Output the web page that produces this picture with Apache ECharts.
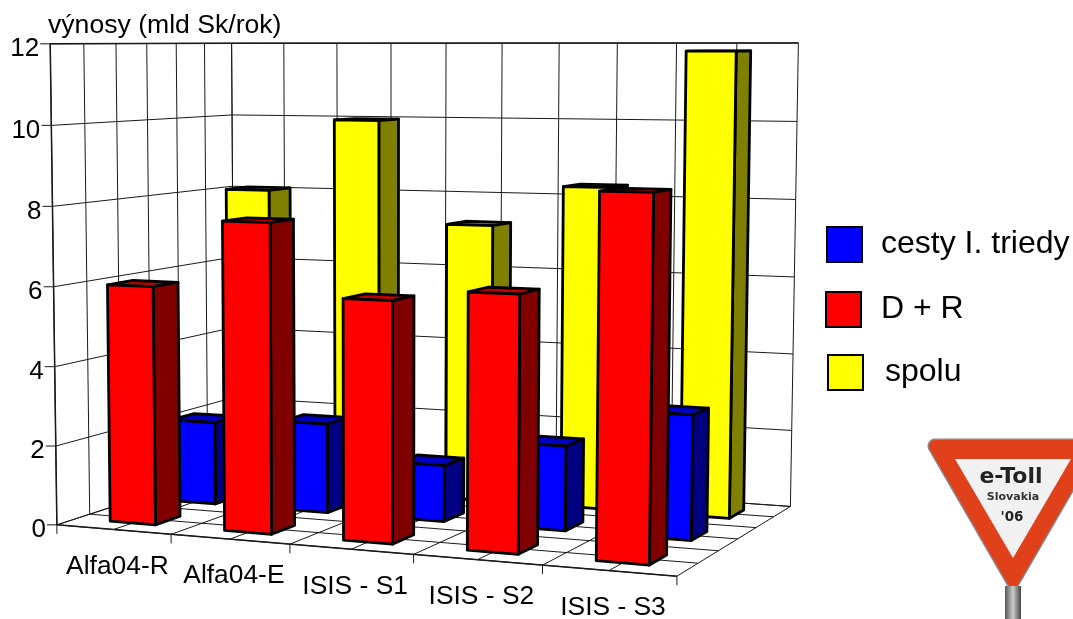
<!DOCTYPE html>
<html>
<head>
<meta charset="utf-8">
<title>výnosy</title>
<style>
  html, body { margin: 0; padding: 0; background: #fff; }
  #chart { width: 1073px; height: 619px; }
</style>
<script src="https://cdn.jsdelivr.net/npm/echarts@6/dist/echarts.min.js"></script>
</head>
<body>
<div id="chart"></div>
<script>
var categories = ['Alfa04-R', 'Alfa04-E', 'ISIS - S1', 'ISIS - S2', 'ISIS - S3'];
var cestyValues = [2.15, 2.3, 1.43, 2.12, 3.08];
var drValues = [6.0, 7.68, 5.9, 6.18, 8.63];
var spoluValues = [8.05, 9.97, 7.27, 8.33, 11.8];
var yTicks = [0, 2, 4, 6, 8, 10, 12];
var FONT = '"Liberation Sans", Arial, sans-serif';
var DEPTH_ROWS = 3;

// box corners of the 3d chart: [u, v, w] -> picture pixel
var corners = [
  [0, 0, 0, 58, 524],
  [0, 1, 0, 49, 44],
  [0, 0, 1, 233, 468],
  [0, 1, 1, 233, 43],
  [1, 0, 1, 790.7, 505.7],
  [1, 1, 1, 798, 43],
  [1, 0, 0, 677, 577]
];

// least squares fit of the projective camera to the corners
function solveCamera(pts) {
  var rows = [], rhs = [];
  pts.forEach(function(p) {
    var u = p[0], v = p[1], w = p[2], x = p[3] / 1000, y = p[4] / 1000;
    rows.push([u, v, w, 1, 0, 0, 0, 0, -x * u, -x * v, -x * w]); rhs.push(x);
    rows.push([0, 0, 0, 0, u, v, w, 1, -y * u, -y * v, -y * w]); rhs.push(y);
  });
  var n = 11, m = [];
  for (var i = 0; i < n; i++) {
    m[i] = [];
    for (var j = 0; j < n; j++) {
      var s = 0;
      rows.forEach(function(r) { s += r[i] * r[j]; });
      m[i][j] = s;
    }
    var b = 0;
    rows.forEach(function(r, k) { b += r[i] * rhs[k]; });
    m[i][n] = b;
  }
  for (var c = 0; c < n; c++) {
    var best = c;
    for (var r2 = c + 1; r2 < n; r2++) if (Math.abs(m[r2][c]) > Math.abs(m[best][c])) best = r2;
    var t = m[c]; m[c] = m[best]; m[best] = t;
    for (var r3 = 0; r3 < n; r3++) {
      if (r3 === c) continue;
      var f = m[r3][c] / m[c][c];
      for (var k2 = c; k2 <= n; k2++) m[r3][k2] -= f * m[c][k2];
    }
  }
  return m.map(function(row, idx) { return row[n] / row[idx]; });
}
var cam = solveCamera(corners);

function project(u, v, w) {
  var d = cam[8] * u + cam[9] * v + cam[10] * w + 1;
  return [
    1000 * (cam[0] * u + cam[1] * v + cam[2] * w + cam[3]) / d,
    1000 * (cam[4] * u + cam[5] * v + cam[6] * w + cam[7]) / d
  ];
}

// axis value -> u, v through the hidden cartesian grid
function toBox(params, api, cat, val) {
  var cs = params.coordSys;
  var pt = api.coord([cat, val]);
  return [(pt[0] - cs.x) / cs.width, (cs.y + cs.height - pt[1]) / cs.height];
}

function face(points, fill) {
  return {
    type: 'polygon',
    shape: { points: points },
    style: { fill: fill, stroke: '#000', lineWidth: 2.8, lineJoin: 'round' }
  };
}

function barSeries(name, values, colors, row) {
  return {
    name: name,
    type: 'custom',
    coordinateSystem: 'cartesian2d',
    itemStyle: { color: colors[0] },
    data: values.map(function(v, i) { return [i, v]; }),
    renderItem: function(params, api) {
      var box = toBox(params, api, api.value(0), api.value(1));
      var halfU = 0.2 * api.size([1, 0])[0] / params.coordSys.width;
      var u0 = box[0] - halfU, u1 = box[0] + halfU, v = box[1];
      var w0 = (row + 0.3) / DEPTH_ROWS, w1 = (row + 0.7) / DEPTH_ROWS;
      return {
        type: 'group',
        children: [
          face([project(u0, v, w0), project(u1, v, w0), project(u1, v, w1), project(u0, v, w1)], colors[2]),
          face([project(u1, 0, w0), project(u1, v, w0), project(u1, v, w1), project(u1, 0, w1)], colors[1]),
          face([project(u0, 0, w0), project(u1, 0, w0), project(u1, v, w0), project(u0, v, w0)], colors[0])
        ]
      };
    }
  };
}

function seg(a, b, width) {
  return {
    type: 'line',
    shape: { x1: a[0], y1: a[1], x2: b[0], y2: b[1] },
    style: { stroke: '#1a1a1a', lineWidth: width || 1 }
  };
}

function renderFrame(params, api) {
  var out = [];
  var nCat = categories.length;
  var i, k;
  // walls: steps of half a category / half a depth row
  for (i = 0; i <= nCat * 2; i++) {
    var u = i / (nCat * 2);
    out.push(seg(project(u, 0, 1), project(u, 1, 1)));
    out.push(seg(project(u, 0, 0), project(u, 0, 1)));
  }
  for (k = 0; k <= DEPTH_ROWS * 2; k++) {
    var w = k / (DEPTH_ROWS * 2);
    out.push(seg(project(0, 0, w), project(0, 1, w)));
    out.push(seg(project(0, 0, w), project(1, 0, w)));
  }
  yTicks.forEach(function(t) {
    var v = toBox(params, api, 0, t)[1];
    var back = project(0, v, 1), front = project(0, v, 0);
    out.push(seg(front, back));
    out.push(seg(back, project(1, v, 1)));
    out.push(seg(front, [front[0] - 10, front[1]]));
    out.push({
      type: 'text',
      style: {
        text: String(t), x: front[0] - 11, y: front[1] + 5,
        fill: '#000', fontSize: 26, fontFamily: FONT, align: 'right', verticalAlign: 'middle'
      }
    });
  });
  // front ticks and category labels
  for (i = 0; i <= nCat; i++) {
    var p = project(i / nCat, 0, 0);
    out.push(seg(p, [p[0], p[1] + 9]));
    if (i < nCat) {
      var mid = project((i + 0.5) / nCat, 0, 0);
      out.push({
        type: 'text',
        style: {
          text: categories[i], x: mid[0] + 4, y: mid[1] + 37,
          fill: '#000', fontSize: 26.4, fontFamily: FONT, align: 'center', verticalAlign: 'middle'
        }
      });
    }
  }
  out.push(seg(project(0, 1, 0), project(0, 1, 1), 1.5));
  out.push(seg(project(0, 1, 1), project(1, 1, 1), 1.5));
  out.push(seg(project(0, 0, 0), project(1, 0, 0), 1.5));
  out.push(seg(project(0, 0, 0), project(0, 1, 0), 1.5));
  return { type: 'group', children: out };
}

function legendAt(name, left, top, textPadding) {
  return {
    data: [name],
    left: left,
    top: top,
    padding: 0,
    icon: 'rect',
    itemWidth: 35,
    itemHeight: 35,
    selectedMode: false,
    itemStyle: { borderColor: '#000', borderWidth: 2 },
    textStyle: { fontFamily: FONT, fontSize: 32, color: '#000', padding: textPadding }
  };
}

var option = {
  animation: false,
  backgroundColor: '#fff',
  title: {
    text: 'výnosy (mld Sk/rok)',
    left: 48,
    top: 12,
    padding: 0,
    textStyle: { fontFamily: FONT, fontSize: 26.6, fontWeight: 'normal', color: '#000' }
  },
  legend: [
    legendAt('cesty I. triedy', 826, 226, [4, 0, 0, 14]),
    legendAt('D + R', 825, 291, [4, 0, 0, 15]),
    legendAt('spolu', 827, 354, [0, 0, 4, 17])
  ],
  grid: { left: 58, top: 44, width: 619, height: 480, show: false },
  xAxis: { type: 'category', data: categories, show: false },
  yAxis: { type: 'value', min: 0, max: 12, interval: 2, show: false },
  series: [
    {
      type: 'custom',
      name: 'frame',
      coordinateSystem: 'cartesian2d',
      silent: true,
      data: [[0, 0]],
      renderItem: renderFrame
    },
    barSeries('spolu', spoluValues, ['#ffff00', '#808000', '#9a9a00'], 2),
    barSeries('cesty I. triedy', cestyValues, ['#0000ff', '#000080', '#0000c0'], 1),
    barSeries('D + R', drValues, ['#ff0000', '#800000', '#c00000'], 0)
  ],
  graphic: [
    { type: 'polygon', shape: { points: [[935, 446], [1091, 446], [1013, 581]] },
      style: { fill: '#888', stroke: '#888', lineWidth: 15, lineJoin: 'round' } },
    { type: 'polygon', shape: { points: [[935, 446], [1091, 446], [1013, 581]] },
      style: { fill: '#e0401a', stroke: '#e0401a', lineWidth: 12, lineJoin: 'round' } },
    { type: 'polygon', shape: { points: [[955, 459], [1071, 459], [1013, 558]] },
      style: { fill: '#f1f1f1' } },
    { type: 'rect', shape: { x: 1005, y: 586, width: 16, height: 33 },
      style: {
        fill: { type: 'linear', x: 0, y: 0, x2: 1, y2: 0, colorStops: [
          { offset: 0, color: '#555' }, { offset: 0.5, color: '#ccc' }, { offset: 1, color: '#444' }
        ] }
      } },
    { type: 'text', style: { text: 'e-Toll', x: 1011, y: 477, fill: '#222', align: 'center', verticalAlign: 'middle',
      fontFamily: '"DejaVu Sans"', fontWeight: 'bold', fontSize: 22 } },
    { type: 'text', style: { text: 'Slovakia', x: 1013, y: 497, fill: '#333', align: 'center', verticalAlign: 'middle',
      fontFamily: '"DejaVu Sans"', fontWeight: 'bold', fontSize: 11 } },
    { type: 'text', style: { text: "'06", x: 1012, y: 517, fill: '#222', align: 'center', verticalAlign: 'middle',
      fontFamily: '"DejaVu Sans"', fontWeight: 'bold', fontSize: 13.5 } }
  ]
};

var chart = echarts.init(document.getElementById('chart'));
chart.setOption(option);
</script>
</body>
</html>
